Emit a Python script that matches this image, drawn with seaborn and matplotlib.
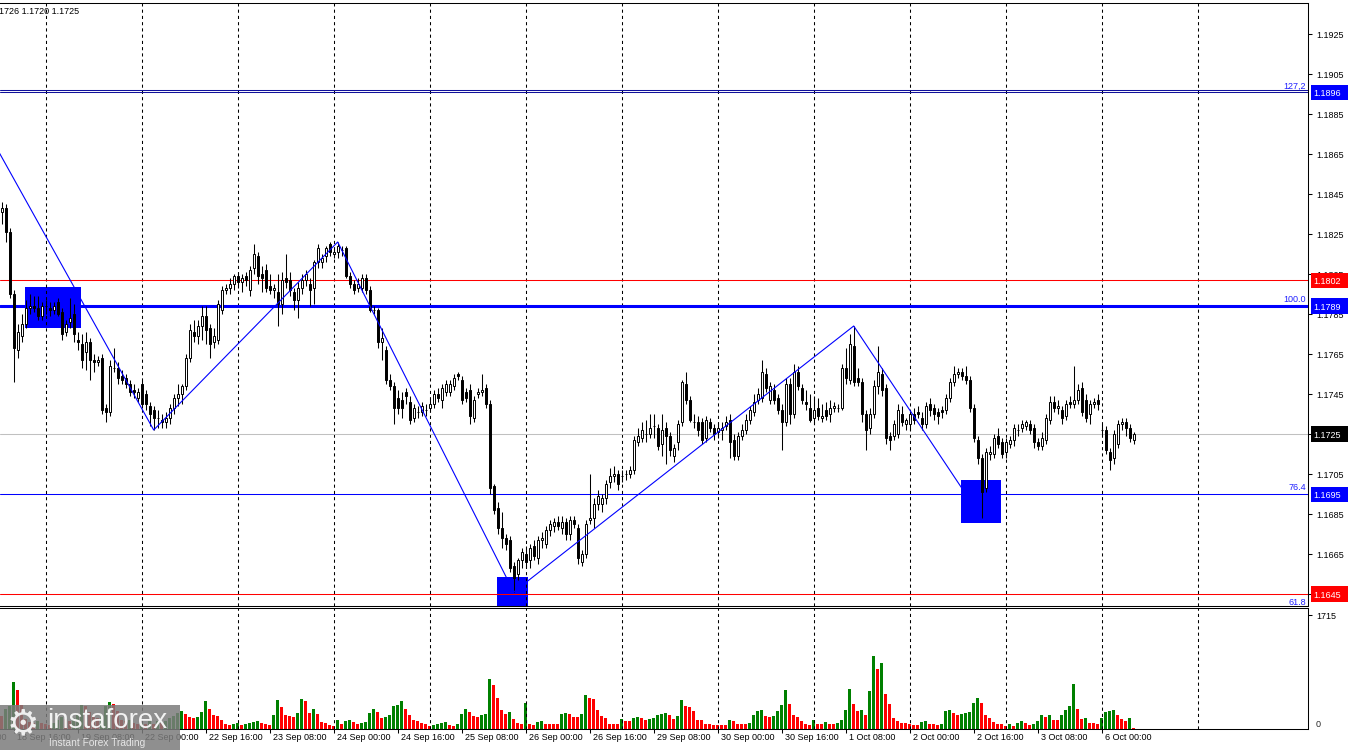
import numpy as np
import pandas as pd
import matplotlib
matplotlib.use("Agg")
import matplotlib.pyplot as plt
import matplotlib.transforms as mtrans
from matplotlib.patches import Rectangle
import seaborn as sns

# ---------------- data (EURUSD H1, bar 0 = 18 Sep 13:00) ----------------
opens = [
    1.1836, 1.1838, 1.1826, 1.1795, 1.1767, 1.1774, 1.1780, 1.1788, 1.1789, 1.1788,
    1.1784, 1.1789, 1.1788, 1.1787, 1.1791, 1.1786, 1.1776, 1.1781, 1.1785, 1.1772,
    1.1770, 1.1766, 1.1771, 1.1762, 1.1761, 1.1763, 1.1738, 1.1736, 1.1758, 1.1758,
    1.1754, 1.1753, 1.1750, 1.1747, 1.1743, 1.1750, 1.1745, 1.1739, 1.1737, 1.1733,
    1.1732, 1.1731, 1.1733, 1.1738, 1.1743, 1.1745, 1.1749, 1.1763, 1.1776, 1.1774,
    1.1779, 1.1784, 1.1778, 1.1771, 1.1772, 1.1787, 1.1797, 1.1798, 1.1800, 1.1804,
    1.1801, 1.1804, 1.1797, 1.1808, 1.1814, 1.1805, 1.1807, 1.1799, 1.1797, 1.1796,
    1.1790, 1.1803, 1.1802, 1.1796, 1.1792, 1.1798, 1.1802, 1.1800, 1.1798, 1.1811,
    1.1811, 1.1814, 1.1820, 1.1815, 1.1816, 1.1817, 1.1818, 1.1804, 1.1800, 1.1798,
    1.1798, 1.1803, 1.1797, 1.1787, 1.1787, 1.1771, 1.1767, 1.1752, 1.1749, 1.1743,
    1.1742, 1.1746, 1.1741, 1.1733, 1.1736, 1.1736, 1.1737, 1.1738, 1.1740, 1.1745,
    1.1742, 1.1746, 1.1746, 1.1749, 1.1755, 1.1752, 1.1746, 1.1747, 1.1733, 1.1745,
    1.1746, 1.1748, 1.1740, 1.1699, 1.1688, 1.1678, 1.1673, 1.1672, 1.1659, 1.1655,
    1.1662, 1.1665, 1.1662, 1.1669, 1.1663, 1.1672, 1.1670, 1.1677, 1.1679, 1.1681,
    1.1678, 1.1681, 1.1675, 1.1682, 1.1678, 1.1661, 1.1665, 1.1682, 1.1683, 1.1690,
    1.1690, 1.1693, 1.1701, 1.1704, 1.1705, 1.1704, 1.1705, 1.1705, 1.1707, 1.1721,
    1.1723, 1.1725, 1.1725, 1.1729, 1.1728, 1.1720, 1.1728, 1.1724, 1.1714, 1.1721,
    1.1731, 1.1750, 1.1742, 1.1731, 1.1731, 1.1731, 1.1723, 1.1731, 1.1728, 1.1726,
    1.1727, 1.1729, 1.1732, 1.1722, 1.1714, 1.1724, 1.1727, 1.1732, 1.1736, 1.1742,
    1.1743, 1.1755, 1.1742, 1.1747, 1.1743, 1.1737, 1.1731, 1.1750, 1.1735, 1.1756,
    1.1748, 1.1741, 1.1738, 1.1733, 1.1738, 1.1733, 1.1737, 1.1735, 1.1738, 1.1738,
    1.1738, 1.1758, 1.1752, 1.1769, 1.1753, 1.1751, 1.1735, 1.1728, 1.1735, 1.1749,
    1.1755, 1.1748, 1.1724, 1.1724, 1.1725, 1.1735, 1.1730, 1.1730, 1.1735, 1.1736,
    1.1733, 1.1730, 1.1740, 1.1738, 1.1736, 1.1737, 1.1737, 1.1743, 1.1751, 1.1755,
    1.1756, 1.1754, 1.1752, 1.1738, 1.1722, 1.1713, 1.1698, 1.1715, 1.1715, 1.1724,
    1.1721, 1.1716, 1.1720, 1.1722, 1.1727, 1.1728, 1.1729, 1.1730, 1.1728, 1.1721,
    1.1719, 1.1722, 1.1732, 1.1741, 1.1738, 1.1737, 1.1734, 1.1741, 1.1740, 1.1742,
    1.1748, 1.1742, 1.1735, 1.1740, 1.1742, 1.1727, 1.1727, 1.1716, 1.1713, 1.1720,
    1.1730, 1.1731, 1.1728, 1.1722,
]
highs = [
    1.1841, 1.1840, 1.1828, 1.1797, 1.1780, 1.1785, 1.1792, 1.1795, 1.1794, 1.1794,
    1.1791, 1.1792, 1.1791, 1.1791, 1.1793, 1.1788, 1.1782, 1.1793, 1.1790, 1.1776,
    1.1775, 1.1776, 1.1773, 1.1765, 1.1764, 1.1765, 1.1740, 1.1762, 1.1768, 1.1761,
    1.1757, 1.1755, 1.1752, 1.1750, 1.1748, 1.1752, 1.1747, 1.1741, 1.1739, 1.1737,
    1.1735, 1.1736, 1.1740, 1.1745, 1.1750, 1.1750, 1.1765, 1.1780, 1.1782, 1.1782,
    1.1789, 1.1789, 1.1780, 1.1778, 1.1792, 1.1799, 1.1800, 1.1803, 1.1805, 1.1806,
    1.1805, 1.1806, 1.1809, 1.1820, 1.1816, 1.1809, 1.1810, 1.1805, 1.1800, 1.1805,
    1.1806, 1.1815, 1.1806, 1.1798, 1.1801, 1.1805, 1.1807, 1.1803, 1.1812, 1.1820,
    1.1815, 1.1819, 1.1821, 1.1818, 1.1821, 1.1819, 1.1819, 1.1806, 1.1802, 1.1803,
    1.1805, 1.1805, 1.1799, 1.1789, 1.1788, 1.1778, 1.1769, 1.1755, 1.1751, 1.1747,
    1.1746, 1.1748, 1.1744, 1.1740, 1.1739, 1.1741, 1.1740, 1.1743, 1.1747, 1.1748,
    1.1750, 1.1752, 1.1752, 1.1755, 1.1756, 1.1754, 1.1748, 1.1750, 1.1744, 1.1748,
    1.1755, 1.1750, 1.1742, 1.1700, 1.1691, 1.1686, 1.1675, 1.1674, 1.1661, 1.1663,
    1.1668, 1.1669, 1.1670, 1.1672, 1.1674, 1.1676, 1.1679, 1.1682, 1.1683, 1.1684,
    1.1684, 1.1683, 1.1684, 1.1684, 1.1680, 1.1667, 1.1682, 1.1705, 1.1693, 1.1697,
    1.1695, 1.1702, 1.1708, 1.1709, 1.1707, 1.1707, 1.1707, 1.1709, 1.1724, 1.1728,
    1.1731, 1.1732, 1.1735, 1.1735, 1.1730, 1.1735, 1.1731, 1.1726, 1.1720, 1.1732,
    1.1752, 1.1756, 1.1744, 1.1735, 1.1734, 1.1733, 1.1734, 1.1733, 1.1730, 1.1731,
    1.1731, 1.1734, 1.1735, 1.1725, 1.1726, 1.1730, 1.1735, 1.1739, 1.1745, 1.1748,
    1.1762, 1.1758, 1.1751, 1.1750, 1.1745, 1.1740, 1.1753, 1.1753, 1.1760, 1.1759,
    1.1750, 1.1747, 1.1745, 1.1744, 1.1743, 1.1740, 1.1741, 1.1742, 1.1741, 1.1740,
    1.1760, 1.1768, 1.1775, 1.1779, 1.1758, 1.1753, 1.1737, 1.1738, 1.1752, 1.1769,
    1.1758, 1.1750, 1.1726, 1.1732, 1.1740, 1.1739, 1.1733, 1.1737, 1.1738, 1.1739,
    1.1736, 1.1741, 1.1743, 1.1740, 1.1738, 1.1739, 1.1745, 1.1753, 1.1759, 1.1758,
    1.1758, 1.1759, 1.1754, 1.1740, 1.1724, 1.1715, 1.1718, 1.1719, 1.1725, 1.1728,
    1.1723, 1.1723, 1.1724, 1.1730, 1.1730, 1.1732, 1.1732, 1.1732, 1.1730, 1.1723,
    1.1726, 1.1735, 1.1744, 1.1744, 1.1742, 1.1739, 1.1742, 1.1744, 1.1759, 1.1750,
    1.1751, 1.1745, 1.1742, 1.1743, 1.1745, 1.1730, 1.1729, 1.1718, 1.1727, 1.1732,
    1.1733, 1.1733, 1.1730, 1.1726,
]
lows = [
    1.1830, 1.1821, 1.1793, 1.1751, 1.1763, 1.1771, 1.1778, 1.1785, 1.1786, 1.1782,
    1.1782, 1.1785, 1.1784, 1.1785, 1.1784, 1.1772, 1.1774, 1.1778, 1.1771, 1.1767,
    1.1758, 1.1757, 1.1752, 1.1756, 1.1759, 1.1735, 1.1731, 1.1734, 1.1756, 1.1750,
    1.1750, 1.1748, 1.1744, 1.1743, 1.1741, 1.1738, 1.1737, 1.1729, 1.1727, 1.1728,
    1.1728, 1.1728, 1.1730, 1.1735, 1.1739, 1.1740, 1.1747, 1.1761, 1.1771, 1.1770,
    1.1772, 1.1770, 1.1763, 1.1768, 1.1770, 1.1785, 1.1795, 1.1795, 1.1797, 1.1798,
    1.1796, 1.1799, 1.1794, 1.1805, 1.1800, 1.1796, 1.1796, 1.1795, 1.1793, 1.1779,
    1.1785, 1.1798, 1.1794, 1.1787, 1.1783, 1.1795, 1.1799, 1.1789, 1.1790, 1.1808,
    1.1808, 1.1811, 1.1814, 1.1813, 1.1813, 1.1814, 1.1803, 1.1798, 1.1795, 1.1796,
    1.1796, 1.1795, 1.1786, 1.1785, 1.1768, 1.1762, 1.1750, 1.1747, 1.1730, 1.1735,
    1.1733, 1.1740, 1.1730, 1.1731, 1.1733, 1.1734, 1.1734, 1.1736, 1.1738, 1.1741,
    1.1738, 1.1744, 1.1744, 1.1747, 1.1752, 1.1740, 1.1741, 1.1730, 1.1731, 1.1743,
    1.1744, 1.1738, 1.1695, 1.1685, 1.1675, 1.1668, 1.1667, 1.1656, 1.1646, 1.1652,
    1.1658, 1.1658, 1.1658, 1.1662, 1.1660, 1.1668, 1.1668, 1.1674, 1.1676, 1.1677,
    1.1675, 1.1672, 1.1672, 1.1678, 1.1660, 1.1659, 1.1663, 1.1680, 1.1678, 1.1687,
    1.1686, 1.1690, 1.1698, 1.1701, 1.1697, 1.1701, 1.1702, 1.1703, 1.1705, 1.1719,
    1.1721, 1.1721, 1.1723, 1.1723, 1.1717, 1.1714, 1.1710, 1.1714, 1.1711, 1.1717,
    1.1729, 1.1740, 1.1731, 1.1728, 1.1724, 1.1720, 1.1721, 1.1726, 1.1722, 1.1723,
    1.1722, 1.1727, 1.1713, 1.1712, 1.1712, 1.1722, 1.1725, 1.1730, 1.1734, 1.1740,
    1.1741, 1.1746, 1.1740, 1.1740, 1.1735, 1.1717, 1.1729, 1.1730, 1.1733, 1.1747,
    1.1740, 1.1737, 1.1731, 1.1730, 1.1732, 1.1731, 1.1732, 1.1731, 1.1736, 1.1736,
    1.1737, 1.1750, 1.1750, 1.1749, 1.1749, 1.1731, 1.1717, 1.1725, 1.1733, 1.1745,
    1.1744, 1.1720, 1.1717, 1.1722, 1.1723, 1.1729, 1.1727, 1.1727, 1.1730, 1.1733,
    1.1727, 1.1728, 1.1734, 1.1732, 1.1730, 1.1733, 1.1735, 1.1741, 1.1749, 1.1753,
    1.1752, 1.1750, 1.1736, 1.1721, 1.1710, 1.1683, 1.1696, 1.1712, 1.1713, 1.1718,
    1.1713, 1.1713, 1.1718, 1.1719, 1.1724, 1.1726, 1.1727, 1.1725, 1.1718, 1.1717,
    1.1717, 1.1720, 1.1730, 1.1736, 1.1735, 1.1730, 1.1732, 1.1738, 1.1738, 1.1740,
    1.1734, 1.1731, 1.1730, 1.1738, 1.1737, 1.1724, 1.1715, 1.1707, 1.1710, 1.1718,
    1.1727, 1.1724, 1.1721, 1.1720,
]
closes = [
    1.1838, 1.1826, 1.1795, 1.1768, 1.1776, 1.1780, 1.1788, 1.1789, 1.1788, 1.1784,
    1.1789, 1.1789, 1.1787, 1.1789, 1.1785, 1.1775, 1.1780, 1.1783, 1.1775, 1.1771,
    1.1762, 1.1771, 1.1762, 1.1761, 1.1762, 1.1737, 1.1736, 1.1759, 1.1758, 1.1753,
    1.1752, 1.1750, 1.1746, 1.1746, 1.1746, 1.1740, 1.1740, 1.1735, 1.1733, 1.1733,
    1.1731, 1.1733, 1.1738, 1.1743, 1.1745, 1.1749, 1.1763, 1.1777, 1.1774, 1.1779,
    1.1784, 1.1777, 1.1770, 1.1774, 1.1790, 1.1797, 1.1798, 1.1800, 1.1804, 1.1801,
    1.1803, 1.1802, 1.1807, 1.1815, 1.1804, 1.1803, 1.1798, 1.1797, 1.1798, 1.1790,
    1.1802, 1.1801, 1.1797, 1.1792, 1.1798, 1.1802, 1.1805, 1.1797, 1.1811, 1.1818,
    1.1813, 1.1818, 1.1816, 1.1816, 1.1819, 1.1817, 1.1804, 1.1800, 1.1797, 1.1800,
    1.1803, 1.1797, 1.1787, 1.1787, 1.1771, 1.1773, 1.1752, 1.1749, 1.1738, 1.1738,
    1.1738, 1.1744, 1.1732, 1.1738, 1.1736, 1.1739, 1.1737, 1.1740, 1.1745, 1.1743,
    1.1748, 1.1750, 1.1750, 1.1753, 1.1754, 1.1742, 1.1743, 1.1734, 1.1742, 1.1746,
    1.1747, 1.1740, 1.1698, 1.1687, 1.1678, 1.1673, 1.1670, 1.1658, 1.1653, 1.1662,
    1.1666, 1.1661, 1.1668, 1.1664, 1.1672, 1.1673, 1.1677, 1.1680, 1.1681, 1.1679,
    1.1681, 1.1675, 1.1682, 1.1680, 1.1663, 1.1665, 1.1680, 1.1683, 1.1690, 1.1694,
    1.1693, 1.1700, 1.1704, 1.1705, 1.1700, 1.1704, 1.1705, 1.1707, 1.1722, 1.1724,
    1.1727, 1.1725, 1.1728, 1.1729, 1.1719, 1.1727, 1.1724, 1.1717, 1.1718, 1.1730,
    1.1751, 1.1742, 1.1732, 1.1731, 1.1727, 1.1722, 1.1732, 1.1728, 1.1725, 1.1728,
    1.1728, 1.1731, 1.1721, 1.1714, 1.1724, 1.1727, 1.1732, 1.1737, 1.1741, 1.1745,
    1.1756, 1.1748, 1.1749, 1.1742, 1.1737, 1.1731, 1.1750, 1.1735, 1.1756, 1.1749,
    1.1742, 1.1740, 1.1732, 1.1737, 1.1734, 1.1734, 1.1734, 1.1738, 1.1739, 1.1738,
    1.1758, 1.1753, 1.1770, 1.1751, 1.1751, 1.1735, 1.1727, 1.1735, 1.1749, 1.1756,
    1.1747, 1.1723, 1.1722, 1.1730, 1.1737, 1.1731, 1.1732, 1.1735, 1.1732, 1.1735,
    1.1730, 1.1739, 1.1737, 1.1735, 1.1734, 1.1736, 1.1743, 1.1751, 1.1755, 1.1756,
    1.1754, 1.1752, 1.1738, 1.1723, 1.1713, 1.1696, 1.1716, 1.1716, 1.1723, 1.1720,
    1.1715, 1.1721, 1.1722, 1.1728, 1.1727, 1.1730, 1.1731, 1.1727, 1.1721, 1.1719,
    1.1723, 1.1733, 1.1741, 1.1738, 1.1739, 1.1733, 1.1740, 1.1740, 1.1742, 1.1747,
    1.1736, 1.1733, 1.1740, 1.1741, 1.1740, 1.1727, 1.1717, 1.1712, 1.1725, 1.1730,
    1.1731, 1.1728, 1.1723, 1.1725,
]
volumes = [
    195, 300, 345, 705, 585, 360, 150, 105, 90, 120,
    90, 75, 60, 90, 135, 180, 150, 120, 165, 210,
    360, 345, 255, 180, 165, 210, 345, 405, 375, 270,
    135, 120, 135, 90, 75, 90, 75, 120, 75, 120,
    90, 120, 165, 195, 240, 270, 225, 180, 165, 180,
    255, 420, 300, 210, 195, 135, 75, 60, 75, 90,
    60, 75, 90, 105, 120, 90, 75, 60, 210, 435,
    330, 210, 195, 180, 240, 450, 420, 240, 300, 225,
    105, 90, 60, 45, 135, 75, 120, 135, 105, 75,
    90, 105, 240, 300, 255, 165, 180, 210, 345, 360,
    420, 300, 210, 135, 120, 90, 75, 45, 60, 75,
    90, 105, 60, 45, 75, 225, 300, 255, 195, 180,
    210, 225, 750, 660, 465, 285, 225, 255, 150, 90,
    75, 390, 75, 60, 105, 120, 75, 75, 75, 75,
    225, 240, 225, 180, 180, 225, 510, 465, 450, 285,
    195, 165, 75, 75, 75, 150, 120, 120, 165, 180,
    165, 135, 150, 165, 210, 225, 240, 210, 150, 195,
    435, 345, 330, 270, 135, 135, 75, 75, 60, 60,
    60, 60, 135, 120, 75, 75, 75, 90, 210, 270,
    285, 195, 180, 195, 270, 360, 585, 375, 210, 180,
    120, 75, 60, 135, 75, 75, 105, 75, 75, 90,
    135, 285, 600, 375, 270, 285, 210, 570, 1095, 900,
    990, 525, 375, 165, 120, 90, 90, 75, 60, 60,
    105, 120, 75, 75, 60, 75, 270, 285, 240, 210,
    225, 240, 255, 390, 465, 390, 210, 165, 105, 75,
    75, 45, 75, 45, 90, 120, 90, 60, 75, 120,
    210, 180, 210, 135, 135, 210, 285, 345, 675, 300,
    150, 165, 90, 90, 75, 165, 255, 270, 285, 210,
    150, 120, 165, 15,
]

# day separators (bar index of 00:00) and time-axis labels
grid_bars = [11, 35, 59, 83, 107, 131, 155, 179, 203, 227, 251, 275, 299]
xlabel_bars = [-13, 3, 19, 35, 51, 67, 83, 99, 115, 131, 147, 163, 179, 195,
               211, 227, 243, 259, 275]
xlabel_text = ["18 Sep 00:00", "18 Sep 16:00", "19 Sep 08:00", "22 Sep 00:00",
               "22 Sep 16:00", "23 Sep 08:00", "24 Sep 00:00", "24 Sep 16:00",
               "25 Sep 08:00", "26 Sep 00:00", "26 Sep 16:00", "29 Sep 08:00",
               "30 Sep 00:00", "30 Sep 16:00", "1 Oct 08:00", "2 Oct 00:00",
               "2 Oct 16:00", "3 Oct 08:00", "6 Oct 00:00"]
price_ticks = [1.1645, 1.1665, 1.1685, 1.1705, 1.1725, 1.1745, 1.1765, 1.1785,
               1.1805, 1.1825, 1.1845, 1.1865, 1.1885, 1.1905, 1.1925]

# horizontal levels
level_prices = [1.1896, 1.1802, 1.1789, 1.1725, 1.1695, 1.1645]
level_colors = ["#10109A", "#FF0000", "#0000FF", "#C0C0C0", "#0000FF", "#FF0000"]
level_widths = [0.75, 0.75, 2.2, 0.75, 0.75, 0.75]
tag_colors = ["#0000FF", "#FF0000", "#0000FF", "#000000", "#0000FF", "#FF0000"]
fib_prices = [1.1896, 1.1789, 1.1695, 1.1645]
fib_labels = ["127,2", "100.0", "76.4", "61.8"]

# zigzag swing points: (bar, kind); first is the prior swing high off-chart
zz_bars = [-6, 38, 84, 128, 213, 245]
zz_kind = ["pre", "low", "high", "low", "high", "low"]
zz_pre_price = 1.1885

# blue zones
zone_x0 = [5.8, 123.9, 239.8]
zone_x1 = [19.75, 131.65, 249.75]
zone_top = [1.17987, 1.16537, 1.17020]
zone_bottom = [1.17782, 1.16350, 1.16803]

header_text = "1726 1.1720 1.1725"

# ---------------- figure ----------------
sns.set_theme(style="white")
plt.rcParams["font.family"] = ["Liberation Sans", "DejaVu Sans"]
plt.rcParams["axes.edgecolor"] = "black"

W, H = 1350, 750
fig = plt.figure(figsize=(W / 100, H / 100), dpi=100, facecolor="white")


def px_axes(left, top, right, bottom):
    return fig.add_axes([left / W, 1 - bottom / H, (right - left) / W, (bottom - top) / H])


ax = px_axes(0, 3, 1308, 605.5)
axv = px_axes(0, 607.5, 1308, 729)
XMIN, XMAX = -0.425, 326.575
YMIN, YMAX = 1.163925, 1.19405
FS = 6.5

o = np.array(opens); h = np.array(highs); l = np.array(lows); c = np.array(closes)
bars = np.arange(len(c))
bull = c >= o

# zones (background)
for x0, x1, t, b in zip(zone_x0, zone_x1, zone_top, zone_bottom):
    ax.add_patch(Rectangle((x0, b), x1 - x0, t - b, facecolor="#0000FF",
                           edgecolor="none", zorder=0.6))

# levels
for p, col, lw in zip(level_prices, level_colors, level_widths):
    ax.axhline(p, color=col, linewidth=lw, zorder=2)
dbl = mtrans.offset_copy(ax.get_yaxis_transform(), fig=fig, x=0, y=2, units="dots")
ax.plot([0, 1], [level_prices[0]] * 2, color=level_colors[0], linewidth=0.75,
        transform=dbl, zorder=2)

# candles
ax.vlines(bars, l, h, colors="black", linewidth=0.75, zorder=4)
ax.bar(bars, c - o, bottom=o, width=0.56, color=np.where(bull, "white", "black"),
       edgecolor="black", linewidth=0.7, zorder=5)

# zigzag
zz_price = [zz_pre_price if k == "pre" else (h[b] if k == "high" else l[b])
            for b, k in zip(zz_bars, zz_kind)]
sns.lineplot(x=zz_bars, y=zz_price, sort=False, estimator=None, color="#0000FF",
             linewidth=0.8, ax=ax, zorder=6)

ax.yaxis.tick_right()
ax.set_yticks(price_ticks)
ax.set_yticklabels(["" if t in (1.1725, 1.1645) else f"{t:.4f}" for t in price_ticks])
ax.tick_params(axis="y", right=True, left=False, direction="out", length=3,
               width=0.75, pad=3, labelsize=FS, colors="black")
ax.set_xticks([])
ax.tick_params(axis="x", bottom=False, labelbottom=False)
ax.set_xlabel(""); ax.set_ylabel("")

# volumes (MT4 Volumes: green when higher than previous bar)
vol = np.array(volumes, dtype=float)
prev = np.concatenate([[np.inf], vol[:-1]])
vdf = pd.DataFrame({"bar": bars, "volume": vol,
                    "dir": np.where(vol > prev, "up", "down")})
sns.barplot(data=vdf, x="bar", y="volume", hue="dir",
            palette={"up": "#008000", "down": "#FF0000"}, native_scale=True,
            dodge=False, width=0.75, saturation=1, errorbar=None, legend=False,
            linewidth=0, ax=axv)
axv.yaxis.tick_right()
axv.set_yticks([1715])
axv.set_yticklabels(["1715"])
axv.tick_params(axis="y", right=True, left=False, direction="out", length=3,
                width=0.75, pad=3, labelsize=FS, colors="black")
axv.set_xticks(xlabel_bars)
axv.set_xticklabels([""] * len(xlabel_bars))
axv.tick_params(axis="x", bottom=True, labelbottom=False, direction="out",
                length=3, width=0.75, colors="black")
axv.set_xlabel(""); axv.set_ylabel("")

# limits last (set_xticks may widen the view)
for a in (ax, axv):
    a.set_xlim(XMIN, XMAX)
ax.set_ylim(YMIN, YMAX)
axv.set_ylim(0, 1830)

# grid
for a in (ax, axv):
    for g in grid_bars:
        a.axvline(g, color="black", linewidth=0.75, linestyle=(0, (3, 3)), zorder=1)

trv = mtrans.blended_transform_factory(fig.transFigure, axv.transData)
fig.text(1316 / W, 0, "0", transform=trv, ha="left", va="bottom", fontsize=FS)

for a in (ax, axv):
    a.spines["left"].set_visible(False)
    for s in ("top", "right", "bottom"):
        a.spines[s].set_color("black")
        a.spines[s].set_linewidth(0.75)
    a.set_facecolor("white")

# price tags and fib labels
PXP = (YMAX - YMIN) / (605.5 - 3)
trt = mtrans.blended_transform_factory(fig.transFigure, ax.transData)
for p, col in zip(level_prices, tag_colors):
    fig.add_artist(Rectangle((1310.5 / W, p - 7.5 * PXP), 37 / W, 15 * PXP,
                             transform=trt, facecolor=col, edgecolor="none", zorder=10))
    fig.text(1313 / W, p, f"{p:.4f}", transform=trt, ha="left", va="center_baseline",
             color="white", fontsize=FS, zorder=11)
for p, lab in zip(fib_prices, fib_labels):
    if lab == "61.8":
        ax.text(1306 / W, p - 4 * PXP, lab, transform=trt, ha="right", va="top",
                color="#2020FF", fontsize=FS, zorder=7)
    else:
        ax.text(1306 / W, p + 1.5 * PXP, lab, transform=trt, ha="right", va="bottom",
                color="#2020FF", fontsize=FS, zorder=7)

# time labels
trx = mtrans.offset_copy(mtrans.blended_transform_factory(axv.transData, fig.transFigure),
                         fig=fig, x=3, y=0, units="dots")
for b, s in zip(xlabel_bars, xlabel_text):
    fig.text(b, 1 - 738 / H, s, transform=trx, ha="left", va="center", fontsize=FS,
             color="black")

# header
fig.text(-1 / W, 1 - 11 / H, header_text, ha="left", va="center", fontsize=FS,
         color="black")

# watermark
fig.add_artist(Rectangle((0, 0), 180 / W, 45 / H, transform=fig.transFigure,
                         facecolor="#7c7c7c", alpha=0.85, edgecolor="none", zorder=20))
fig.text(23 / W, 1 - 724 / H, "\u2699", ha="center", va="center", fontsize=26,
         color="#eeeeee", family=["DejaVu Sans"], zorder=21)
fig.text(47 / W, 1 - 728 / H, "instaforex", ha="left", va="baseline", fontsize=20,
         color="#f2f2f2", zorder=21)
fig.text(49 / W, 1 - 746 / H, "Instant Forex Trading", ha="left", va="baseline",
         fontsize=7.3, color="#e6e6e6", zorder=21)

fig.savefig("out.png", dpi=100, facecolor="white")
